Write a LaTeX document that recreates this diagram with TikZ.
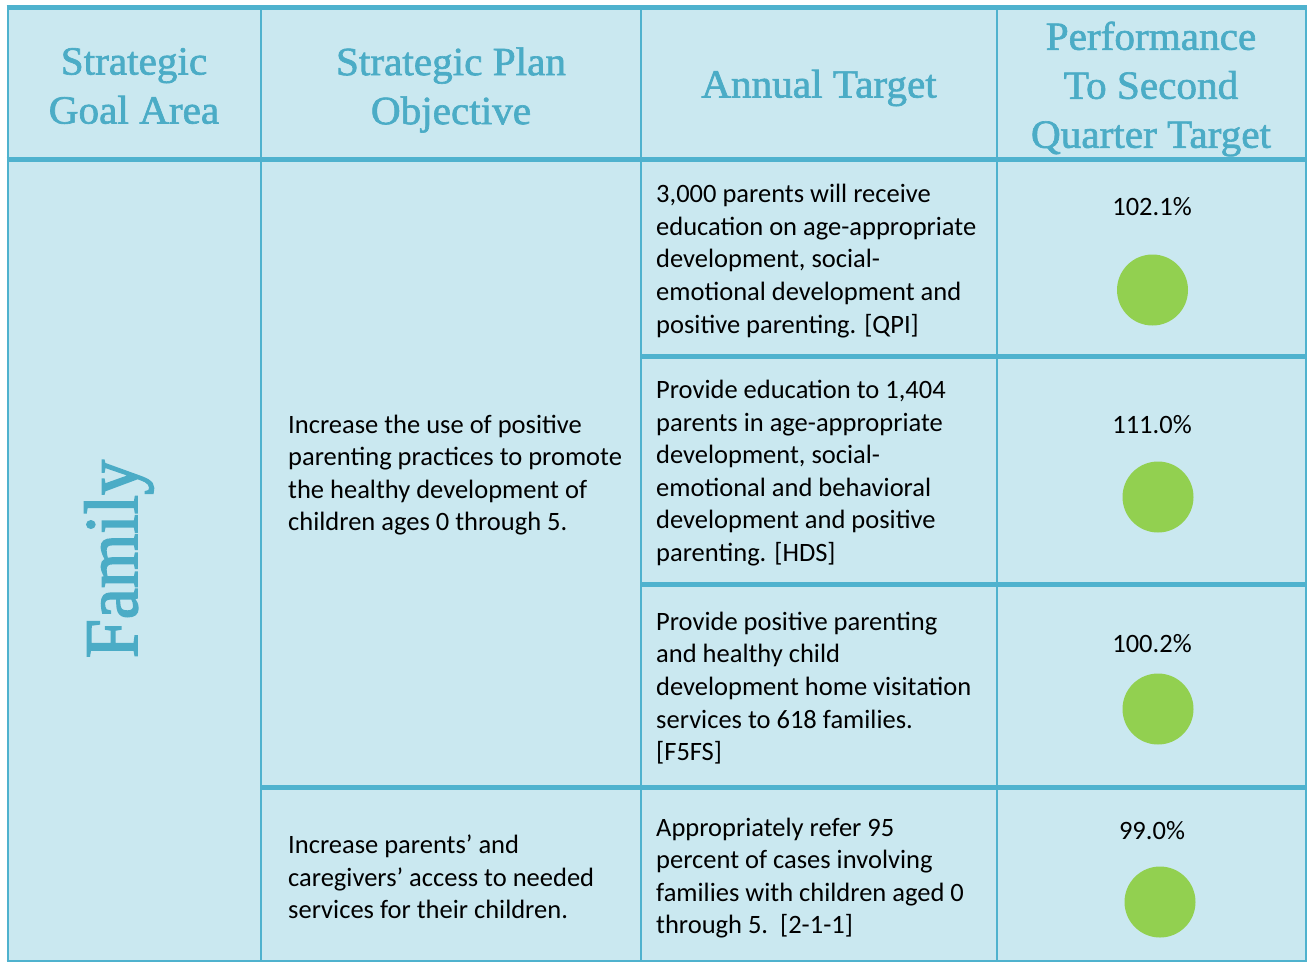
\documentclass[tikz,border=0pt]{standalone}
\usepackage{fontspec}
\setmainfont{Carlito}
\newfontfamily\hdrfont[FakeStretch=1.03,FakeBold=1.6]{Liberation Serif}
\newfontfamily\famfont[FakeStretch=0.92,FakeBold=2]{Liberation Serif}
\definecolor{cellfill}{RGB}{202,232,240}
\definecolor{rulecol}{RGB}{79,178,206}
\definecolor{hdrtext}{RGB}{75,172,198}
\definecolor{dotgreen}{RGB}{146,208,80}
\begin{document}
\begin{tikzpicture}[x=1pt,y=-1pt,
  thinrule/.style={draw=rulecol,line width=2pt},
  thickrule/.style={draw=rulecol,line width=5pt},
  hdr/.style={font=\hdrfont\fontsize{40}{49}\selectfont, text=hdrtext, align=center, inner sep=0pt},
  body/.style={font=\fontsize{26.5}{32.6}\selectfont, align=left, anchor=west, inner sep=0pt},
  pct/.style={font=\fontsize{26.5}{32}\selectfont, inner sep=0pt},
  dot/.style={fill=dotgreen, circle, minimum size=71pt, inner sep=0pt}]
\useasboundingbox (0,0) rectangle (1307,962);
\fill[white] (0,0) rectangle (1307,962);
\fill[cellfill] (7.5,7.5) rectangle (1305.5,961);
% vertical rules
\draw[thinrule] (7.5,7.5) -- (7.5,961);
\draw[thinrule] (261,7.5) -- (261,961);
\draw[thinrule] (641,7.5) -- (641,961);
\draw[thinrule] (997,7.5) -- (997,961);
\draw[thinrule] (1305.5,7.5) -- (1305.5,961);
% horizontal rules
\draw[thinrule] (6.5,961) -- (1306.5,961);
\draw[thickrule] (6.5,7.5) -- (1307,7.5);
\draw[thickrule] (6.5,159) -- (1307,159);
\draw[thickrule] (641,356) -- (1307,356);
\draw[thickrule] (641,584) -- (1307,584);
\draw[thickrule] (261,787) -- (1307,787);
% header
\node[hdr] (h1) at (134,86) {Strategic\\Goal Area};
\node[hdr] (h2) at (451,90) {Strategic Plan\\Objective};
\node[hdr] (h3) at (819,88) {Annual Target};
\node[hdr] (h4) at (1151,89) {Performance\\To Second\\Quarter Target};
% goal area
\node[font=\famfont\fontsize{76}{76}\selectfont, text=hdrtext, rotate=90, inner sep=0pt] (fam) at (119,559) {Family};
% objectives
\node[body] (o1) at (288,475) {Increase the use of positive\\parenting practices to promote\\the healthy development of\\children ages 0 through 5.};
\node[body] (o2) at (288,877) {Increase parents’ and\\caregivers’ access to needed\\services for their children.};
% targets
\node[body] (t1) at (656,261) {3,000 parents will receive\\education on age-appropriate\\development, social-\\emotional development and\\positive parenting. [QPI]};
\node[body] (t2) at (656,473) {Provide education to 1,404\\parents in age-appropriate\\development, social-\\emotional and behavioral\\development and positive\\parenting. [HDS]};
\node[body] (t3) at (656,688) {Provide positive parenting\\and healthy child\\development home visitation\\services to 618 families.\\{[F5FS]}};
\node[body] (t4) at (656,878) {Appropriately refer 95\\percent of cases involving\\families with children aged 0\\through 5.\ \ [2-1-1]};
% performance
\node[pct] (p1) at (1152,207) {102.1\%};
\node[dot] (d1) at (1152.5,290) {};
\node[pct] (p2) at (1152,425) {111.0\%};
\node[dot] (d2) at (1158,497) {};
\node[pct] (p3) at (1152,644) {100.2\%};
\node[dot] (d3) at (1158,709) {};
\node[pct] (p4) at (1152,831) {99.0\%};
\node[dot] (d4) at (1160,902) {};
\end{tikzpicture}
\end{document}
